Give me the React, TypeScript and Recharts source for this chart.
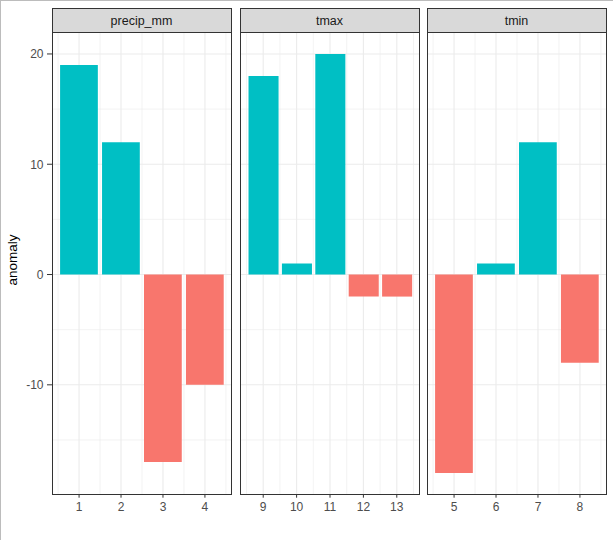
import React from 'react';
import { BarChart, Bar, XAxis, YAxis, CartesianGrid, Cell } from 'recharts';

// ---- data ----
const panelNames = ['precip_mm', 'tmax', 'tmin'];
const precipX = [1, 2, 3, 4];
const precipVals = [19, 12, -17, -10];
const tmaxX = [9, 10, 11, 12, 13];
const tmaxVals = [18, 1, 20, -2, -2];
const tminX = [5, 6, 7, 8];
const tminVals = [-18, 1, 12, -8];
const yTicks = [-10, 0, 10, 20];
const yMinor = [-15, -5, 5, 15];
const yDomain: [number, number] = [-19.9, 21.9];
const yLabel = 'anomaly';

const POS = '#00BFC4';
const NEG = '#F8766D';
const FONT = '"Liberation Sans", Arial, sans-serif';

const panels = [
  { name: panelNames[0], xs: precipX, vals: precipVals },
  { name: panelNames[1], xs: tmaxX, vals: tmaxVals },
  { name: panelNames[2], xs: tminX, vals: tminVals },
];

const panelLefts = [51.5, 239.5, 426.5];
const PANEL_W = 180;
const PLOT_TOP = 33;
const PLOT_H = 461;
const X_AXIS_H = 46;

function Panel({ idx }: { idx: number }) {
  const p = panels[idx];
  const data = p.xs.map((x, i) => ({ x, value: p.vals[i] }));
  const lo0 = Math.min(...p.xs) - 0.45;
  const hi0 = Math.max(...p.xs) + 0.45;
  const pad = (hi0 - lo0) * 0.05;
  const lo = lo0 - pad;
  const hi = hi0 + pad;
  const barSize = (0.9 * PANEL_W) / (hi - lo);
  const minorX: number[] = [];
  for (let v = Math.min(...p.xs) - 0.5; v <= Math.max(...p.xs) + 0.5 + 1e-9; v += 1) minorX.push(v);
  const yW = idx === 0 ? 52 : 0;
  const left = panelLefts[idx];
  return (
    <>
      <div
        style={{
          position: 'absolute',
          left: left,
          top: 8,
          width: PANEL_W,
          height: 25,
          background: '#d9d9d9',
          border: '1px solid #333333',
          boxSizing: 'border-box',
          display: 'flex',
          alignItems: 'center',
          justifyContent: 'center',
          fontFamily: FONT,
          fontSize: 12.5,
          color: '#1a1a1a',
        }}
      >
        {p.name}
      </div>
      <div style={{ position: 'absolute', left: left - yW, top: PLOT_TOP }}>
        <BarChart
          width={PANEL_W + yW}
          height={PLOT_H + X_AXIS_H}
          data={data}
          margin={{ top: 0, right: 0, bottom: 0, left: 0 }}
        >
          <CartesianGrid
            stroke="#ebebeb"
            strokeWidth={0.6}
            horizontalValues={yMinor}
            verticalValues={minorX}
          />
          <CartesianGrid
            stroke="#ebebeb"
            strokeWidth={1.1}
            horizontalValues={yTicks}
            verticalValues={p.xs}
          />
          <XAxis
            type="number"
            dataKey="x"
            domain={[lo, hi]}
            ticks={p.xs}
            interval={0}
            allowDataOverflow
            axisLine={false}
            tickSize={3.7}
            tickMargin={5}
            height={X_AXIS_H}
            tickLine={{ stroke: '#333333' }}
            tick={{ fill: '#4d4d4d', fontSize: 12, fontFamily: FONT }}
          />
          <YAxis
            type="number"
            domain={yDomain}
            ticks={yTicks}
            interval={0}
            allowDataOverflow
            hide={idx !== 0}
            width={yW}
            axisLine={false}
            tickSize={5}
            tickMargin={3.5}
            tickLine={{ stroke: '#333333' }}
            tick={{ fill: '#4d4d4d', fontSize: 12, fontFamily: FONT }}
          />
          <Bar dataKey="value" barSize={barSize} isAnimationActive={false}>
            {data.map((d, i) => (
              <Cell key={i} fill={d.value >= 0 ? POS : NEG} />
            ))}
          </Bar>
        </BarChart>
      </div>
      <div
        style={{
          position: 'absolute',
          left: left,
          top: 32,
          width: PANEL_W,
          height: 463,
          border: '1px solid #333333',
          boxSizing: 'border-box',
          pointerEvents: 'none',
        }}
      />
    </>
  );
}

export default function App() {
  return (
    <div
      style={{
        position: 'absolute',
        left: 0,
        top: 0,
        width: 613,
        height: 540,
        background: '#ffffff',
        overflow: 'hidden',
        borderTop: '1px solid #bcbcbc',
        borderLeft: '1px solid #bcbcbc',
        boxSizing: 'border-box',
      }}
    >
      <div style={{ position: 'absolute', left: -1, top: -1, width: 613, height: 540 }}>
        {[0, 1, 2].map((i) => (
          <Panel key={i} idx={i} />
        ))}
        <div
          style={{
            position: 'absolute',
            left: 12,
            top: 260,
            transform: 'translate(-50%, -50%) rotate(-90deg)',
            fontFamily: FONT,
            fontSize: 13.5,
            color: '#000000',
            whiteSpace: 'nowrap',
          }}
        >
          {yLabel}
        </div>
      </div>
    </div>
  );
}
